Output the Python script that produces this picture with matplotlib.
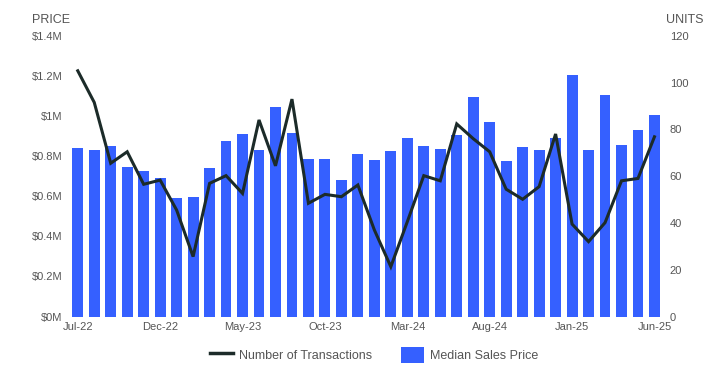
import matplotlib
matplotlib.use("Agg")
import matplotlib.pyplot as plt
from matplotlib.lines import Line2D
from matplotlib.patches import Patch

plt.rcParams['font.family'] = ['Liberation Sans', 'DejaVu Sans']

months = ["Jul-22", "Aug-22", "Sep-22", "Oct-22", "Nov-22", "Dec-22",
          "Jan-23", "Feb-23", "Mar-23", "Apr-23", "May-23", "Jun-23",
          "Jul-23", "Aug-23", "Sep-23", "Oct-23", "Nov-23", "Dec-23",
          "Jan-24", "Feb-24", "Mar-24", "Apr-24", "May-24", "Jun-24",
          "Jul-24", "Aug-24", "Sep-24", "Oct-24", "Nov-24", "Dec-24",
          "Jan-25", "Feb-25", "Mar-25", "Apr-25", "May-25", "Jun-25"]

median_price = [0.840, 0.830, 0.850, 0.745, 0.725, 0.690, 0.592, 0.596, 0.740,
                0.875, 0.910, 0.830, 1.044, 0.913, 0.785, 0.785, 0.680, 0.810,
                0.780, 0.825, 0.890, 0.850, 0.835, 0.905, 1.094, 0.970, 0.775,
                0.845, 0.830, 0.890, 1.204, 0.830, 1.104, 0.855, 0.930, 1.004]

transactions = [105, 91.5, 65.5, 70.4, 56.5, 58.3, 45.5, 25.6, 56.9, 60.2,
                52.6, 84.0, 64.4, 92.9, 48.4, 52.2, 51.2, 56.2, 37.0, 21.3,
                40.5, 60.2, 58.0, 82.3, 76.0, 70.4, 54.4, 50.1, 55.5, 78.0,
                39.5, 32.0, 40.1, 58.0, 59.0, 76.8]

price_ticks = [0, 0.2, 0.4, 0.6, 0.8, 1.0, 1.2, 1.4]
price_labels = ["$0M", "$0.2M", "$0.4M", "$0.6M", "$0.8M", "$1M", "$1.2M", "$1.4M"]
unit_ticks = [0, 20, 40, 60, 80, 100, 120]

bar_color = "#3560FF"
line_color = "#1C2B29"
text_color = "#555555"

fig = plt.figure(figsize=(7.28, 3.86), dpi=100)
ax = fig.add_axes([0.0955, 0.180, 0.8148, 0.7275])
x = list(range(len(months)))
ax.bar(x, median_price, width=0.66, color=bar_color, zorder=2)
ax.set_xlim(-0.5, len(months) - 0.5)
ax.set_ylim(0, 1.4)
ax.set_yticks(price_ticks)
ax.set_yticklabels(price_labels)
tick_idx = x[::5]
ax.set_xticks(tick_idx)
ax.set_xticklabels([months[i] for i in tick_idx])

ax2 = ax.twinx()
ax2.plot(x, transactions, color=line_color, linewidth=2.2, zorder=3,
         solid_joinstyle='miter')
ax2.set_ylim(0, 120)
ax2.set_yticks(unit_ticks)

for a in (ax, ax2):
    for s in a.spines.values():
        s.set_visible(False)
    a.tick_params(length=0, labelsize=8, colors=text_color)
ax.tick_params(axis='y', pad=5)
ax.tick_params(axis='x', pad=4)
ax2.tick_params(axis='y', pad=5)

fig.text(32 / 728, 1 - 20 / 386, "PRICE", fontsize=9, color=text_color,
         ha='left', va='center')
fig.text(666 / 728, 1 - 20 / 386, "UNITS", fontsize=9, color=text_color,
         ha='left', va='center')

handles = [Line2D([0], [0], color=line_color, linewidth=2.5),
           Patch(facecolor=bar_color, edgecolor='none')]
fig.legend(handles, ["Number of Transactions", "Median Sales Price"],
           loc='center', bbox_to_anchor=(0.5 + 10 / 728, 1 - 355 / 386), ncol=2,
           frameon=False, fontsize=9, labelcolor=text_color,
           handlelength=1.85, handleheight=1.5, columnspacing=2.3,
           handletextpad=0.45)

fig.savefig("out.png", dpi=100)
